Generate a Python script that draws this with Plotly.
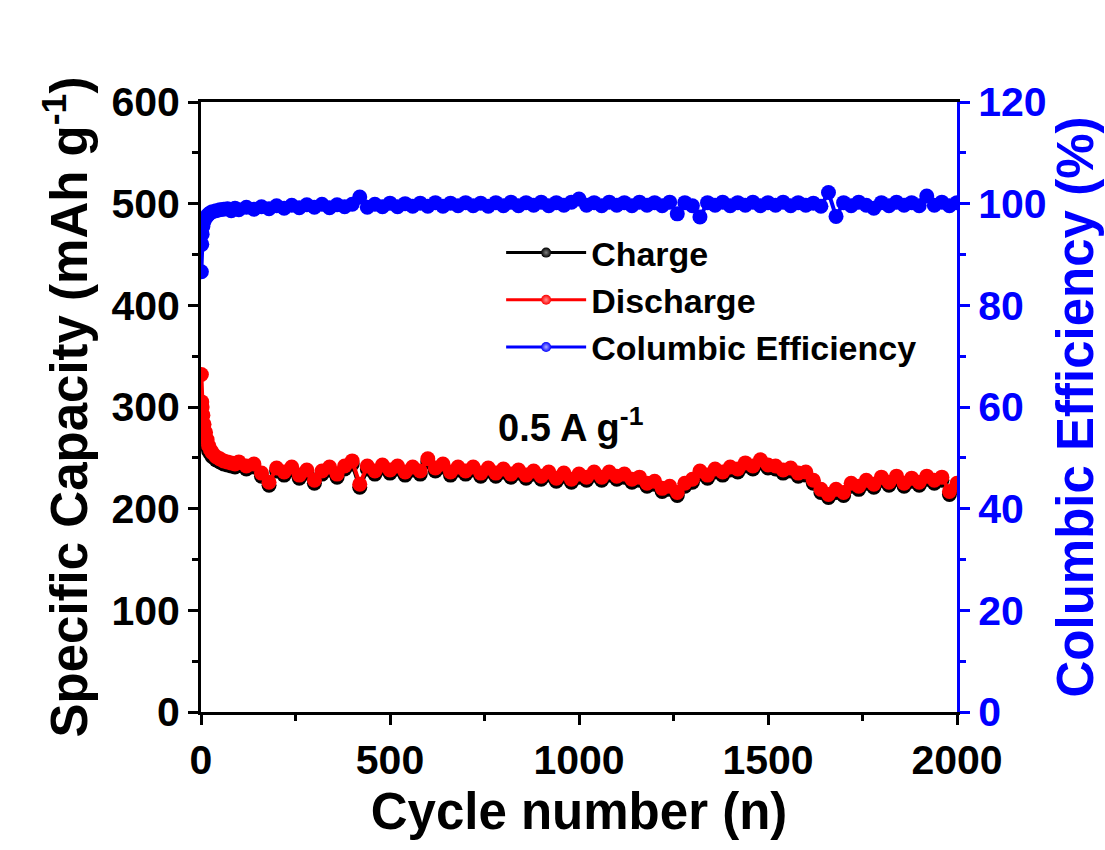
import plotly.graph_objects as go

# ---------------- data ----------------
cycles = [1, 2, 3, 5, 8, 12, 16, 20, 25, 30, 40, 50, 60, 70, 80, 90,
          100, 120, 140, 160, 180, 200, 220, 240, 260, 280, 300, 320, 340, 360, 380,
          400, 420, 440, 460, 480, 500, 520, 540, 560, 580, 600, 620, 640, 660, 680,
          700, 720, 740, 760, 780, 800, 820, 840, 860, 880, 900, 920, 940, 960, 980,
          1000, 1020, 1040, 1060, 1080, 1100, 1120, 1140, 1160, 1180, 1200, 1220, 1240,
          1260, 1280, 1300, 1320, 1340, 1360, 1380, 1400, 1420, 1440, 1460, 1480, 1500,
          1520, 1540, 1560, 1580, 1600, 1620, 1640, 1660, 1680, 1700, 1720, 1740, 1760,
          1780, 1800, 1820, 1840, 1860, 1880, 1900, 1920, 1940, 1960, 1980, 2000]

discharge = [332, 305, 300, 292, 283, 275, 268, 262, 258, 255, 251, 249, 247, 246, 245, 244,
             246, 242, 244, 235, 226, 240, 236, 241, 233, 238, 228, 237, 241, 234, 242,
             247, 224, 242, 237, 243, 238, 242, 236, 241, 237, 249, 240, 244, 236, 241,
             237, 241, 235, 240, 235, 239, 234, 238, 233, 237, 232, 236, 230, 235, 229,
             234, 231, 236, 231, 236, 232, 234, 229, 231, 225, 227, 220, 222,
             216, 225, 229, 237, 233, 239, 236, 241, 239, 245, 242, 248, 243,
             242, 238, 240, 235, 236, 228, 219, 214, 219, 216, 225, 222, 228,
             224, 231, 226, 232, 225, 230, 226, 232, 228, 231, 217, 225]

charge = [288, 281, 282, 279, 273, 267, 262, 257, 254, 251, 248, 246, 244, 243, 242, 241,
          243, 239, 241, 232, 223, 237, 233, 238, 230, 235, 225, 234, 238, 231, 239,
          244, 221, 239, 234, 240, 235, 239, 233, 238, 234, 246, 237, 241, 233, 238,
          234, 238, 232, 237, 232, 236, 231, 235, 230, 234, 229, 233, 227, 232, 226,
          231, 228, 233, 228, 233, 229, 231, 226, 228, 222, 224, 217, 219,
          213, 222, 226, 234, 230, 236, 233, 238, 236, 242, 239, 245, 240,
          239, 235, 237, 232, 233, 225, 216, 211, 216, 213, 222, 219, 225,
          221, 228, 223, 229, 222, 227, 223, 229, 225, 228, 214, 222]

efficiency = [86.6, 92.0, 94.0, 95.5, 96.5, 97.2, 97.6, 97.9, 98.2, 98.4, 98.6, 98.8, 98.9, 99.0, 98.6, 99.1,
              98.8, 99.3, 98.9, 99.4, 99.0, 99.6, 99.1, 99.7, 99.2, 99.8, 99.3, 99.9, 99.2, 99.8, 99.4,
              99.9, 101.3, 99.3, 99.9, 99.4, 100.1, 99.4, 100.0, 99.5, 100.1, 99.5, 100.2, 99.5, 100.1, 99.6,
              100.2, 99.6, 100.1, 99.5, 100.2, 99.6, 100.3, 99.6, 100.2, 99.7, 100.3, 99.6, 100.2, 99.7, 100.3,
              100.9, 99.7, 100.2, 99.6, 100.3, 99.7, 100.2, 99.6, 100.3, 99.7, 100.2, 99.6, 100.3,
              98.0, 100.2, 99.6, 97.4, 100.2, 99.7, 100.3, 99.6, 100.2, 99.7, 100.3, 99.6, 100.2,
              99.7, 100.3, 99.6, 100.2, 99.7, 100.1, 99.5, 102.2, 97.5, 100.2, 99.6, 100.3, 99.7,
              99.1, 100.2, 99.6, 100.3, 99.7, 100.2, 99.6, 101.5, 99.7, 100.3, 99.6, 100.2]

x_ticks = [0, 500, 1000, 1500, 2000]
cap_ticks = [0, 100, 200, 300, 400, 500, 600]
ce_ticks = [0, 20, 40, 60, 80, 100, 120]

FONT = "Liberation Sans, Arial, sans-serif"
BLUE = "#0000ff"
RED = "#ff0000"
BLACK = "#000000"
MS = 15

fig = go.Figure()
# data traces
fig.add_trace(go.Scatter(x=cycles, y=charge, name="Charge", mode="lines+markers", showlegend=False,
                         line=dict(color=BLACK, width=4),
                         marker=dict(color=BLACK, size=MS, line=dict(width=0))))
fig.add_trace(go.Scatter(x=cycles, y=discharge, name="Discharge", mode="lines+markers", showlegend=False,
                         line=dict(color=RED, width=4),
                         marker=dict(color=RED, size=MS, line=dict(width=0))))
fig.add_trace(go.Scatter(x=cycles, y=efficiency, name="Columbic Efficiency", mode="lines+markers",
                         yaxis="y2", showlegend=False,
                         line=dict(color=BLUE, width=4),
                         marker=dict(color=BLUE, size=MS, line=dict(width=0))))
# legend entries (small symbols as in the reference)
for nm, col, hi in [("Charge", BLACK, "#808080"), ("Discharge", RED, "#ff9090"),
                    ("Columbic Efficiency", BLUE, "#b0b0ff")]:
    fig.add_trace(go.Scatter(x=[None], y=[None], name=nm, mode="lines+markers",
                             line=dict(color=col, width=3),
                             marker=dict(color=col, size=10, line=dict(width=0),
                                         gradient=dict(type="radial", color=hi))))

tickfont = dict(family=FONT, size=41, color=BLACK, weight="bold")
titlefont = dict(family=FONT, size=51, color=BLACK, weight="bold")

fig.update_layout(
    width=1105, height=850,
    margin=dict(l=201, r=148, t=102, b=138, autoexpand=False),
    paper_bgcolor="white", plot_bgcolor="white",
    showlegend=True,
    legend=dict(x=0.397, y=0.80, xanchor="left", yanchor="top",
                bgcolor="rgba(0,0,0,0)", itemwidth=80,
                font=dict(family=FONT, size=34, color=BLACK, weight="bold"),
                tracegroupgap=0),
    xaxis=dict(range=[0, 2000], tickvals=x_ticks, ticks="outside", ticklen=10, tickwidth=3,
               tickcolor=BLACK, showline=True, linecolor=BLACK, linewidth=3, mirror=True,
               showgrid=False, zeroline=False, tickfont=tickfont,
               minor=dict(dtick=250, ticks="outside", ticklen=6, tickwidth=3, tickcolor=BLACK),
               title=dict(text="Cycle number (n)", font=titlefont, standoff=2)),
    yaxis=dict(range=[0, 600], tickvals=cap_ticks, ticks="outside", ticklen=10, tickwidth=3,
               tickcolor=BLACK, showline=True, linecolor=BLACK, linewidth=3,
               showgrid=False, zeroline=False, tickfont=tickfont,
               minor=dict(dtick=50, ticks="outside", ticklen=6, tickwidth=3, tickcolor=BLACK),
               title=dict(text="Specific Capacity (mAh g<sup>-1</sup>)", font=titlefont, standoff=8)),
    yaxis2=dict(range=[0, 120], tickvals=ce_ticks, overlaying="y", side="right",
                ticks="outside", ticklen=10, tickwidth=3, tickcolor=BLUE,
                showline=True, linecolor=BLUE, linewidth=3,
                showgrid=False, zeroline=False,
                tickfont=dict(family=FONT, size=41, color=BLUE, weight="bold"),
                minor=dict(dtick=10, ticks="outside", ticklen=6, tickwidth=3, tickcolor=BLUE),
                title=dict(text="Columbic Efficiency (%)",
                           font=dict(family=FONT, size=51, color=BLUE, weight="bold"), standoff=8)),
    annotations=[dict(text="0.5 A g<sup>-1</sup>", xref="paper", yref="paper",
                      x=0.390, y=0.47, xanchor="left", yanchor="middle", showarrow=False,
                      font=dict(family=FONT, size=38, color=BLACK, weight="bold"))],
)

fig.write_html("out.html")
